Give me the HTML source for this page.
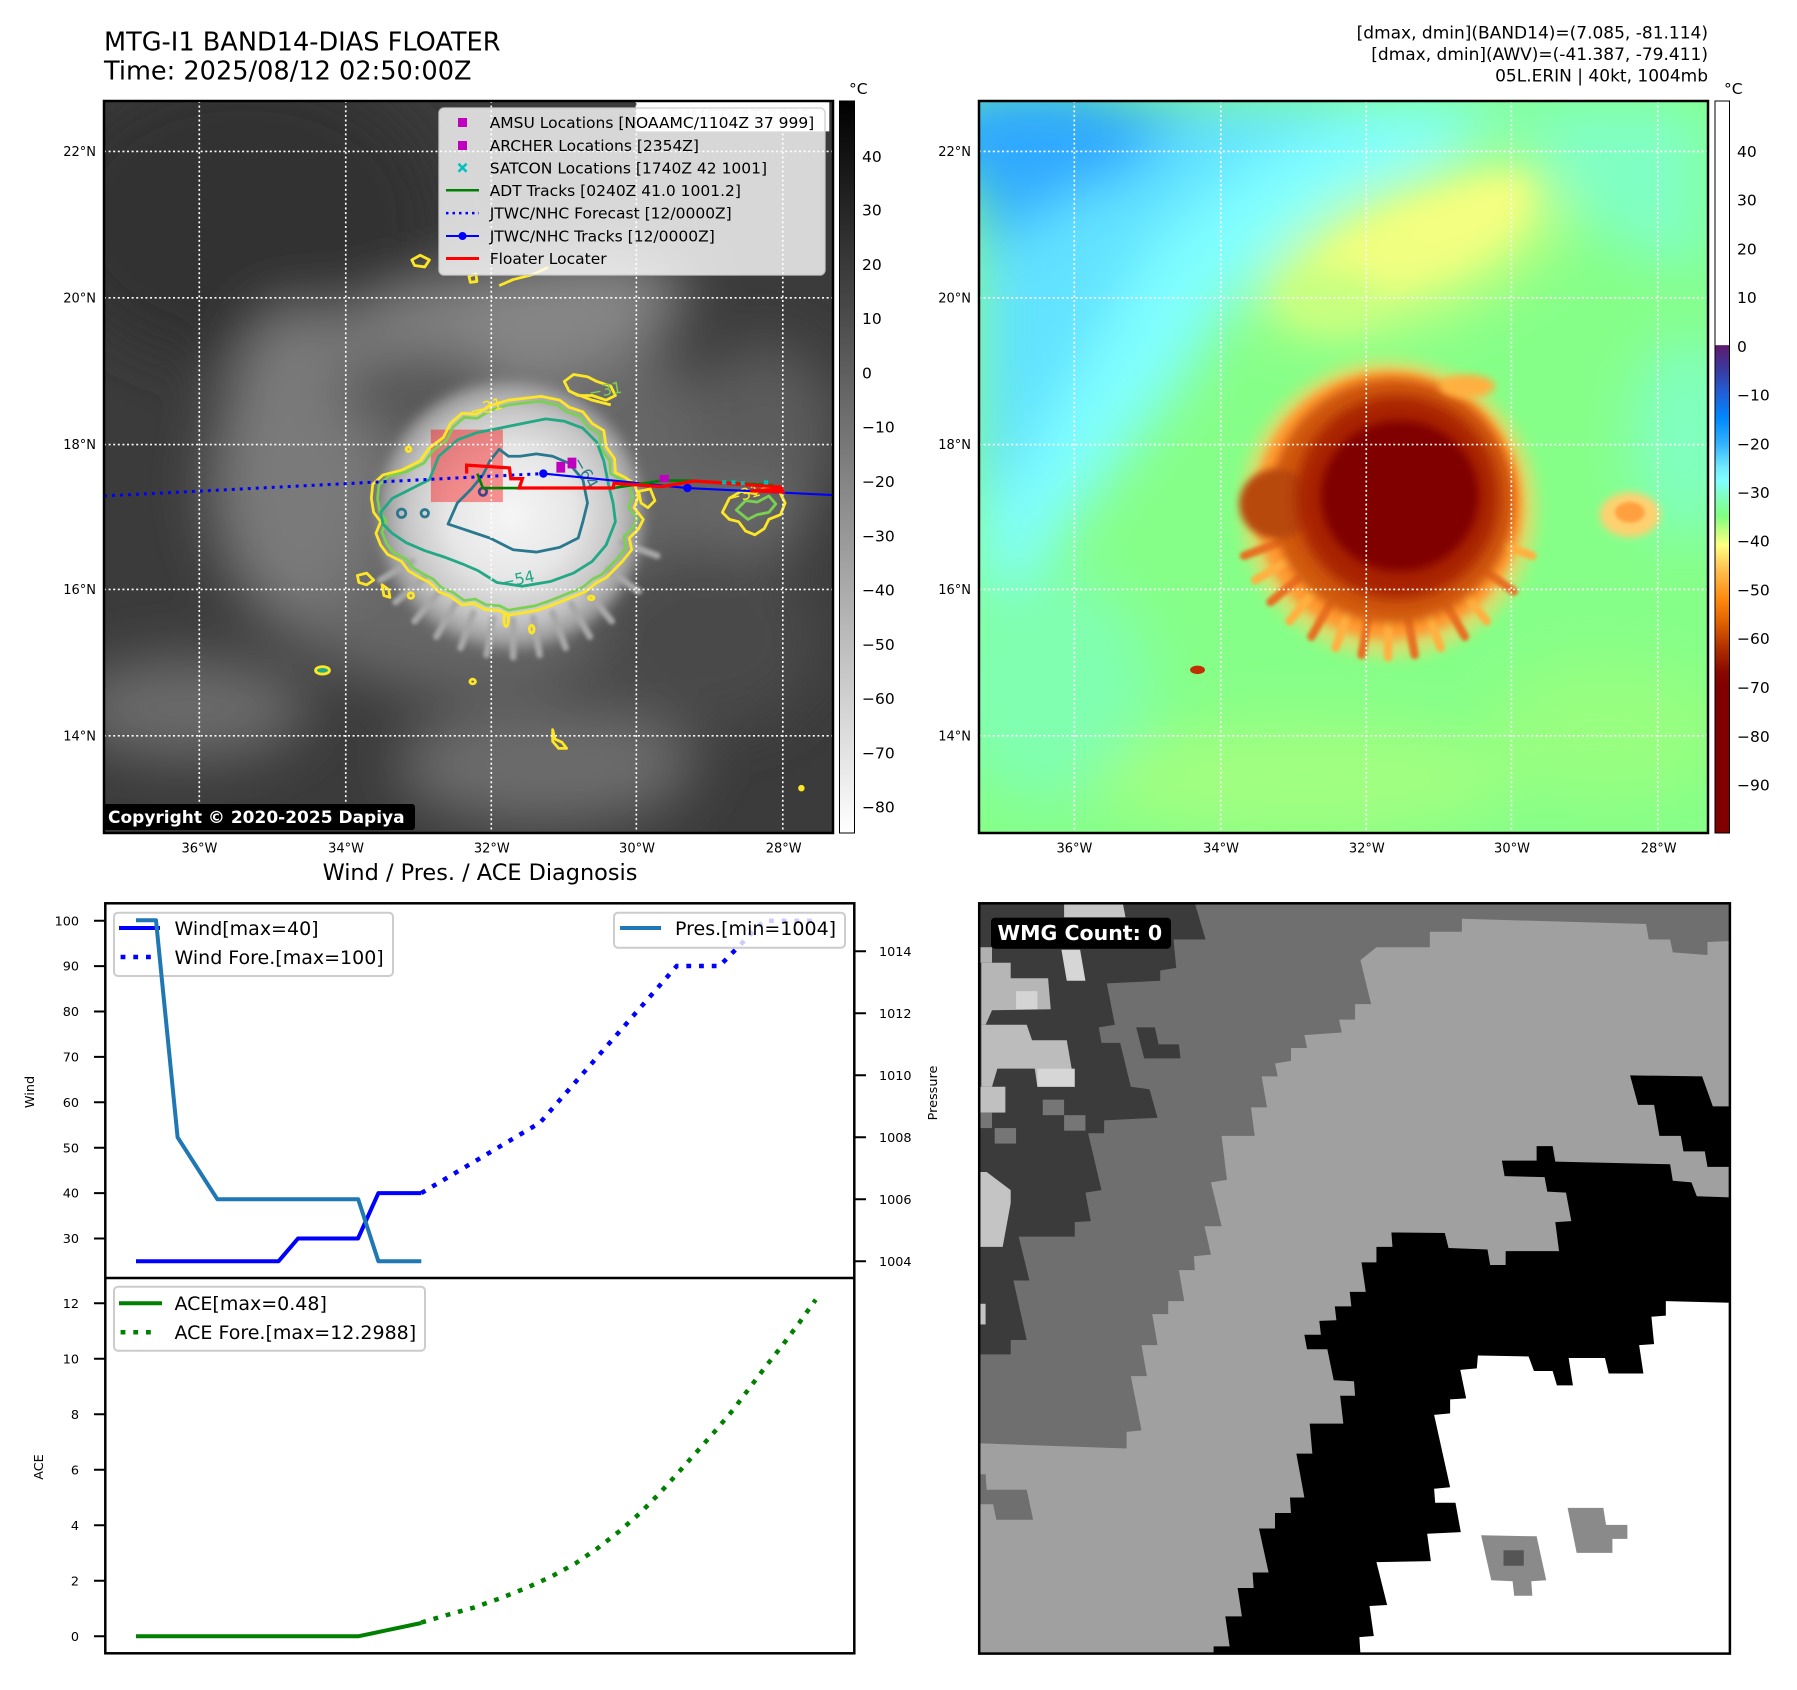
<!DOCTYPE html>
<html><head><meta charset="utf-8"><style>html,body{margin:0;padding:0;background:#fff}svg{display:block}</style></head>
<body>
<svg width="1797" height="1690" viewBox="0 0 1797 1690" font-family="DejaVu Sans, Liberation Sans, sans-serif">
<defs>
<filter id="b60" x="-60%" y="-60%" width="220%" height="220%"><feGaussianBlur stdDeviation="60"/></filter>
<filter id="b30" x="-50%" y="-50%" width="200%" height="200%"><feGaussianBlur stdDeviation="30"/></filter>
<filter id="b15" x="-40%" y="-40%" width="180%" height="180%"><feGaussianBlur stdDeviation="15"/></filter>
<filter id="b10" x="-40%" y="-40%" width="180%" height="180%"><feGaussianBlur stdDeviation="10"/></filter>
<filter id="b8" x="-40%" y="-40%" width="180%" height="180%"><feGaussianBlur stdDeviation="8"/></filter>
<filter id="b4" x="-40%" y="-40%" width="180%" height="180%"><feGaussianBlur stdDeviation="4"/></filter>
<linearGradient id="gcbL" x1="0" y1="0" x2="0" y2="1"><stop offset="0" stop-color="#000"/><stop offset="1" stop-color="#fff"/></linearGradient>
<linearGradient id="gcbR" x1="0" y1="0" x2="0" y2="1">
<stop offset="0" stop-color="#fff"/><stop offset="0.333" stop-color="#fff"/>
<stop offset="0.334" stop-color="#5e1a6e"/><stop offset="0.367" stop-color="#3a3aa0"/>
<stop offset="0.4" stop-color="#2060d8"/><stop offset="0.433" stop-color="#0088ff"/>
<stop offset="0.467" stop-color="#30b0ff"/><stop offset="0.5" stop-color="#70e8ff"/>
<stop offset="0.52" stop-color="#80ffff"/><stop offset="0.54" stop-color="#80ffc0"/>
<stop offset="0.567" stop-color="#80ff80"/><stop offset="0.587" stop-color="#c0ff80"/>
<stop offset="0.607" stop-color="#ffff80"/><stop offset="0.64" stop-color="#ffc050"/>
<stop offset="0.68" stop-color="#ff8a10"/><stop offset="0.713" stop-color="#e06000"/>
<stop offset="0.747" stop-color="#b03000"/><stop offset="0.78" stop-color="#880800"/>
<stop offset="0.8" stop-color="#800000"/><stop offset="1" stop-color="#800000"/>
</linearGradient>
<radialGradient id="stL" cx="0.5" cy="0.5" r="0.5">
<stop offset="0" stop-color="#f6f6f6"/><stop offset="0.45" stop-color="#e6e6e6"/>
<stop offset="0.75" stop-color="#c4c4c4"/><stop offset="0.9" stop-color="#9a9a9a"/>
<stop offset="1" stop-color="#777" stop-opacity="0"/></radialGradient>
</defs>
<rect width="1797" height="1690" fill="#fff"/>

<!-- Titles -->
<text x="104" y="50.5" font-size="25.6">MTG-I1 BAND14-DIAS FLOATER</text>
<text x="104" y="79.5" font-size="25.6">Time: 2025/08/12 02:50:00Z</text>
<g font-size="17" text-anchor="end">
<text x="1708" y="38.5">[dmax, dmin](BAND14)=(7.085, -81.114)</text>
<text x="1708" y="60">[dmax, dmin](AWV)=(-41.387, -79.411)</text>
<text x="1708" y="81.5">05L.ERIN | 40kt, 1004mb</text>
</g>
<text x="849" y="94" font-size="15.5">°C</text>
<text x="1724" y="94" font-size="15.5">°C</text>

<!-- LEFT MAP -->
<svg x="104" y="101" width="729" height="732" viewBox="0 0 1568 1566" preserveAspectRatio="none">
<rect width="1568" height="1566" fill="#3b3b3b"/>
<g filter="url(#b60)">
<ellipse cx="300" cy="250" rx="420" ry="320" fill="#333"/>
<ellipse cx="780" cy="830" rx="560" ry="440" fill="#666"/>
<ellipse cx="880" cy="480" rx="380" ry="130" fill="#868686" transform="rotate(-12 880 480)"/>
<ellipse cx="420" cy="770" rx="170" ry="330" fill="#7a7a7a"/>
<ellipse cx="680" cy="620" rx="180" ry="90" fill="#545454"/>
<ellipse cx="180" cy="1300" rx="260" ry="110" fill="#6a6a6a"/>
<ellipse cx="950" cy="1420" rx="320" ry="130" fill="#6c6c6c"/>
<ellipse cx="1420" cy="700" rx="160" ry="180" fill="#5c5c5c"/>
<ellipse cx="1300" cy="1150" rx="250" ry="200" fill="#484848"/>
<ellipse cx="1400" cy="880" rx="120" ry="90" fill="#6a6a6a"/>
</g>
<circle cx="875" cy="885" r="305" fill="url(#stL)" filter="url(#b10)"/>
<g stroke="#a8a8a8" stroke-width="14" stroke-linecap="round" filter="url(#b4)">
<line x1="1115" y1="945" x2="1190" y2="973"/><line x1="1085" y1="1003" x2="1150" y2="1049"/>
<line x1="1041" y1="1051" x2="1092" y2="1113"/><line x1="1005" y1="1076" x2="1045" y2="1146"/>
<line x1="965" y1="1095" x2="993" y2="1170"/><line x1="923" y1="1106" x2="937" y2="1185"/>
<line x1="880" y1="1110" x2="880" y2="1190"/><line x1="837" y1="1106" x2="823" y2="1185"/>
<line x1="794" y1="1095" x2="767" y2="1170"/><line x1="755" y1="1076" x2="715" y2="1146"/>
<line x1="719" y1="1051" x2="668" y2="1113"/><line x1="688" y1="1021" x2="627" y2="1072"/>
<line x1="663" y1="985" x2="594" y2="1025"/>
</g>
<!-- locator box -->
<rect x="703" y="703" width="155" height="155" fill="#ff0000" fill-opacity="0.4"/>
<!-- contours -->
<g fill="none" stroke-width="6" stroke-linejoin="round">
<path d="M578,820 L600,800 L640,790 L680,770 L700,742 L730,720 L745,690 L770,668 L800,670 L830,652 L870,640 L905,636 L940,632 L980,640 L1000,655 L1030,665 L1050,690 L1075,705 L1080,740 L1098,765 L1100,795 L1120,805 L1140,818 L1150,845 L1140,870 L1160,895 L1150,915 L1130,935 L1135,960 L1115,985 L1095,1005 L1080,1020 L1060,1030 L1035,1050 L1010,1060 L985,1070 L960,1080 L930,1090 L900,1095 L870,1100 L850,1090 L820,1088 L795,1075 L770,1078 L745,1060 L720,1050 L700,1030 L680,1020 L655,1005 L640,985 L610,970 L595,950 L585,925 L595,900 L580,880 L575,850 Z" stroke="#fde725"/>
<path d="M578,820 L600,800 L640,790 L680,770 L700,742 L730,720 L745,690 L770,668 L800,670 L830,652 L870,640 L905,636 L940,632 L980,640 L1000,655 L1030,665 L1050,690 L1075,705 L1080,740 L1098,765 L1100,795 L1120,805 L1140,818 L1150,845 L1140,870 L1160,895 L1150,915 L1130,935 L1135,960 L1115,985 L1095,1005 L1080,1020 L1060,1030 L1035,1050 L1010,1060 L985,1070 L960,1080 L930,1090 L900,1095 L870,1100 L850,1090 L820,1088 L795,1075 L770,1078 L745,1060 L720,1050 L700,1030 L680,1020 L655,1005 L640,985 L610,970 L595,950 L585,925 L595,900 L580,880 L575,850 Z" stroke="#7ad151" transform="translate(870 865) scale(0.955) translate(-870 -865)"/>
<path d="M595,880 L620,850 L660,830 L700,810 L720,760 L760,725 L800,710 L850,700 L900,690 L950,680 L990,685 L1030,700 L1060,730 L1075,770 L1085,820 L1095,860 L1100,900 L1080,950 L1050,985 L1010,1010 L960,1028 L900,1038 L845,1030 L805,1005 L770,990 L730,975 L690,962 L650,945 L620,925 L600,905 Z" stroke="#22a884"/>
<path d="M740,905 L760,860 L790,830 L815,800 L830,770 L850,745 L870,760 L895,760 L930,755 L965,760 L1000,775 L1030,810 L1040,860 L1030,900 L1020,935 L980,955 L930,965 L880,960 L830,935 L800,925 L770,915 Z" stroke="#2a788e"/>
<circle cx="640" cy="882" r="9" stroke="#2a788e"/><circle cx="690" cy="882" r="8" stroke="#2a788e"/><circle cx="815" cy="836" r="8" stroke="#414487"/>
<path d="M1330,880 L1345,850 L1370,835 L1400,840 L1425,825 L1450,830 L1465,860 L1455,885 L1430,895 L1420,915 L1400,928 L1380,920 L1365,900 L1345,895 Z" stroke="#fde725"/>
<path d="M1360,875 L1380,855 L1405,858 L1430,845 L1445,862 L1430,880 L1405,885 L1385,895 Z" stroke="#7ad151"/>
<path d="M990,600 L1010,585 L1040,590 L1060,600 L1090,610 L1100,630 L1080,640 L1050,630 L1020,630 L1000,620 Z" stroke="#fde725"/>
<path d="M1010,625 L1050,640 L1090,650" stroke="#fde725"/>
<path d="M662,340 L680,330 L700,340 L690,355 L668,352 Z" stroke="#fde725"/>
<path d="M850,395 L880,382 L920,372 L955,356" stroke="#fde725"/>
<path d="M785,375 L800,370 L802,386 L788,388 Z" stroke="#fde725"/>
<path d="M545,1015 L565,1010 L580,1025 L565,1035 L548,1030 Z" stroke="#fde725"/>
<path d="M598,1035 L612,1045 L615,1062 L602,1058 Z" stroke="#fde725"/>
<path d="M1150,835 L1175,830 L1185,855 L1170,870 L1155,860 Z" stroke="#fde725"/>
<ellipse cx="470" cy="1218" rx="15" ry="8" stroke="#fde725" fill="#22a884"/>
<ellipse cx="793" cy="1242" rx="6" ry="5" stroke="#fde725"/>
<path d="M965,1345 L970,1365 L985,1372 L995,1385 L978,1385 L965,1370 Z" stroke="#fde725"/>
<circle cx="655" cy="745" r="5" stroke="#fde725"/><circle cx="660" cy="1058" r="6" stroke="#fde725"/>
<circle cx="1500" cy="1470" r="4" stroke="#fde725" fill="#fde725"/>
<ellipse cx="865" cy="1110" rx="5" ry="14" stroke="#fde725"/><ellipse cx="920" cy="1130" rx="5" ry="8" stroke="#fde725"/>
<ellipse cx="1048" cy="1063" rx="6" ry="4" stroke="#fde725"/>
</g>
<g font-size="34">
<text x="790" y="676" fill="#fde725" transform="rotate(-15 790 676)">−31</text>
<text x="1045" y="636" fill="#7ad151" transform="rotate(-10 1045 636)">−31</text>
<text x="1008" y="770" fill="#2a788e" transform="rotate(60 1008 770)">−64</text>
<text x="858" y="1042" fill="#22a884" transform="rotate(-12 858 1042)">−54</text>
<text x="1345" y="862" fill="#fde725" transform="rotate(-15 1345 862)">−31</text>
</g>
<!-- gridlines -->
<g stroke="#fff" stroke-width="3.5" stroke-dasharray="4.3 5.6">
<line x1="205" y1="0" x2="205" y2="1566"/><line x1="520" y1="0" x2="520" y2="1566"/>
<line x1="833" y1="0" x2="833" y2="1566"/><line x1="1145" y1="0" x2="1145" y2="1566"/>
<line x1="1460" y1="0" x2="1460" y2="1566"/>
<line x1="0" y1="108" x2="1568" y2="108"/><line x1="0" y1="421" x2="1568" y2="421"/>
<line x1="0" y1="735" x2="1568" y2="735"/><line x1="0" y1="1045" x2="1568" y2="1045"/>
<line x1="0" y1="1358" x2="1568" y2="1358"/>
</g>
<!-- tracks -->
<line x1="0" y1="845" x2="945" y2="797" stroke="#0000ff" stroke-width="6.5" stroke-dasharray="6.5 10.7"/>
<path d="M945,797 L1255,828 L1568,843" stroke="#0000ff" stroke-width="4.5" fill="none"/>
<circle cx="945" cy="797" r="9" fill="#0000ff"/><circle cx="1255" cy="828" r="9" fill="#0000ff"/>
<path d="M803,797 L815,828 L1095,828 L1200,812 L1260,812 L1440,822" stroke="#008000" stroke-width="5.5" fill="none"/>
<path d="M780,797 L780,779 L872,785 L875,808 L900,808 L893,828 L1095,828 L1097,818 L1200,825 L1270,813 L1455,826 L1460,836 L1390,834 L1460,830" stroke="#ff0000" stroke-width="7" fill="none" stroke-linejoin="miter"/>
<rect x="973" y="772" width="19" height="23" fill="#bf00bf"/>
<rect x="997" y="763" width="19" height="23" fill="#bf00bf"/>
<rect x="1195" y="800" width="20" height="15" fill="#bf00bf"/>
<g stroke="#00bfbf" stroke-width="4">
<path d="M1330,812 l8,8 m0,-8 l-8,8 M1350,812 l8,8 m0,-8 l-8,8 M1370,814 l8,8 m0,-8 l-8,8 M1420,812 l8,8 m0,-8 l-8,8"/>
</g>
<!-- EUMETSAT box -->
<rect x="1145" y="0" width="415" height="65" fill="#fff"/>
<text x="1160" y="46" font-size="38" fill="#d8d8d8">© EUMETSAT 2025</text>
</svg>
<rect x="104" y="101" width="729" height="732" fill="none" stroke="#000" stroke-width="2.5"/>

<!-- left map legend -->
<rect x="439" y="108" width="386" height="167" rx="5" fill="#fff" fill-opacity="0.8" stroke="#ccc" stroke-opacity="0.8" stroke-width="1.5"/>
<rect x="458" y="118" width="9" height="9" fill="#bf00bf"/>
<rect x="458" y="141" width="9" height="9" fill="#bf00bf"/>
<path d="M458.5,163.8 l8,8 m0,-8 l-8,8" stroke="#00bfbf" stroke-width="2.5"/>
<line x1="446" y1="190.3" x2="479" y2="190.3" stroke="#008000" stroke-width="2.5"/>
<line x1="446" y1="213.1" x2="479" y2="213.1" stroke="#0000ff" stroke-width="2.5" stroke-dasharray="2.5 4"/>
<line x1="446" y1="236" x2="479" y2="236" stroke="#0000ff" stroke-width="2"/>
<circle cx="462.5" cy="236" r="4" fill="#0000ff"/>
<line x1="446" y1="258.5" x2="479" y2="258.5" stroke="#ff0000" stroke-width="3"/>
<g font-size="15.5">
<text x="489.7" y="128.1">AMSU Locations [NOAAMC/1104Z 37 999]</text>
<text x="489.7" y="151">ARCHER Locations [2354Z]</text>
<text x="489.7" y="173.4">SATCON Locations [1740Z 42 1001]</text>
<text x="489.7" y="195.9">ADT Tracks [0240Z 41.0 1001.2]</text>
<text x="489.7" y="218.7">JTWC/NHC Forecast [12/0000Z]</text>
<text x="489.7" y="241.6">JTWC/NHC Tracks [12/0000Z]</text>
<text x="489.7" y="264.1">Floater Locater</text>
</g>
<!-- copyright -->
<rect x="103" y="804" width="312" height="26" rx="3" fill="#000"/>
<text x="108" y="823" font-size="17" font-weight="bold" fill="#fff">Copyright © 2020-2025 Dapiya</text>

<!-- map tick labels -->
<g font-size="13" text-anchor="end">
<text x="96" y="156.2">22°N</text><text x="96" y="302.4">20°N</text><text x="96" y="449.2">18°N</text><text x="96" y="594">16°N</text><text x="96" y="740.3">14°N</text>
<text x="971" y="156.2">22°N</text><text x="971" y="302.4">20°N</text><text x="971" y="449.2">18°N</text><text x="971" y="594">16°N</text><text x="971" y="740.3">14°N</text>
</g>
<g font-size="13" text-anchor="middle">
<text x="199.4" y="852.5">36°W</text><text x="346.1" y="852.5">34°W</text><text x="491.8" y="852.5">32°W</text><text x="637" y="852.5">30°W</text><text x="783.7" y="852.5">28°W</text>
<text x="1074.4" y="852.5">36°W</text><text x="1221.1" y="852.5">34°W</text><text x="1366.8" y="852.5">32°W</text><text x="1512" y="852.5">30°W</text><text x="1658.7" y="852.5">28°W</text>
</g>

<!-- left colorbar -->
<rect x="839.5" y="101" width="15" height="732" fill="url(#gcbL)" stroke="#000" stroke-width="1"/>
<g font-size="15.5">
<text x="862" y="162">40</text><text x="862" y="215.6">30</text><text x="862" y="270">20</text><text x="862" y="324">10</text>
<text x="862" y="378.6">0</text><text x="862" y="432.6">−10</text><text x="862" y="487">−20</text><text x="862" y="541.6">−30</text>
<text x="862" y="595.6">−40</text><text x="862" y="650">−50</text><text x="862" y="704">−60</text><text x="862" y="758.6">−70</text>
<text x="862" y="812.6">−80</text>
</g>

<!-- RIGHT MAP -->
<svg x="979" y="101" width="729" height="732" viewBox="0 0 1568 1566" preserveAspectRatio="none">
<rect width="1568" height="1566" fill="#86ff88"/>
<g filter="url(#b60)">
<polygon points="0,0 1150,0 1000,130 750,250 550,420 420,620 260,820 120,1000 0,1100" fill="#80ffff"/>
<polygon points="0,0 850,0 600,120 380,300 230,550 80,800 0,880" fill="#62e2ff"/>
<polygon points="0,0 520,0 300,110 120,260 0,330" fill="#36b0ff"/>
<ellipse cx="120" cy="80" rx="260" ry="120" fill="#2ea8ff"/>
<polygon points="1150,0 1568,0 1568,380 1350,300 1200,150" fill="#80ffc4"/>
<ellipse cx="1520" cy="720" rx="120" ry="220" fill="#80ffc0"/>
<ellipse cx="150" cy="1250" rx="220" ry="250" fill="#80ffb0"/>
<ellipse cx="700" cy="1450" rx="450" ry="120" fill="#a0ff80"/>
<ellipse cx="1350" cy="1350" rx="250" ry="150" fill="#98ff80"/>
<ellipse cx="930" cy="320" rx="340" ry="150" fill="#d0ff80" transform="rotate(-20 930 320)"/>
</g>
<g filter="url(#b30)">
<ellipse cx="950" cy="300" rx="240" ry="85" fill="#f0ff80" transform="rotate(-20 950 300)"/>
<ellipse cx="1050" cy="230" rx="150" ry="50" fill="#f4ff80" transform="rotate(-20 1050 230)"/>
<ellipse cx="760" cy="420" rx="110" ry="60" fill="#c8ff80"/>
</g>
<!-- storm -->
<circle cx="882" cy="872" r="318" fill="#ffd060" opacity="0.65" filter="url(#b15)"/>
<circle cx="882" cy="865" r="288" fill="#ff9a30" filter="url(#b10)"/>
<g stroke-width="18" stroke-linecap="round" filter="url(#b4)">
<line x1="1115" y1="945" x2="1190" y2="973" stroke="#ffb040"/><line x1="1085" y1="1003" x2="1150" y2="1049" stroke="#e87020"/>
<line x1="1041" y1="1051" x2="1092" y2="1113" stroke="#ffb040"/><line x1="1005" y1="1076" x2="1045" y2="1146" stroke="#e87020"/>
<line x1="965" y1="1095" x2="993" y2="1170" stroke="#ffb040"/><line x1="923" y1="1106" x2="937" y2="1185" stroke="#e87020"/>
<line x1="880" y1="1110" x2="880" y2="1190" stroke="#ffb040"/><line x1="837" y1="1106" x2="823" y2="1185" stroke="#e87020"/>
<line x1="794" y1="1095" x2="767" y2="1170" stroke="#ffb040"/><line x1="755" y1="1076" x2="715" y2="1146" stroke="#e87020"/>
<line x1="719" y1="1051" x2="668" y2="1113" stroke="#ffb040"/><line x1="688" y1="1021" x2="627" y2="1072" stroke="#e87020"/>
<line x1="663" y1="985" x2="594" y2="1025" stroke="#ffb040"/><line x1="645" y1="945" x2="570" y2="973" stroke="#e87020"/>
</g>
<circle cx="890" cy="855" r="262" fill="#d05a10" filter="url(#b10)"/>
<ellipse cx="640" cy="862" rx="80" ry="75" fill="#b84a10" filter="url(#b8)"/>
<circle cx="900" cy="848" r="218" fill="#a82000" filter="url(#b15)"/>
<ellipse cx="905" cy="845" rx="170" ry="162" fill="#800000" filter="url(#b10)"/>
<ellipse cx="1050" cy="610" rx="60" ry="25" fill="#ffb040" filter="url(#b8)"/>
<ellipse cx="1400" cy="885" rx="65" ry="48" fill="#ffd070" filter="url(#b8)"/>
<ellipse cx="1400" cy="880" rx="32" ry="22" fill="#ffa040" filter="url(#b4)"/>
<ellipse cx="470" cy="1217" rx="16" ry="9" fill="#c03000"/>
<g stroke="#fff" stroke-width="3.5" stroke-dasharray="4.3 5.6">
<line x1="205" y1="0" x2="205" y2="1566"/><line x1="520" y1="0" x2="520" y2="1566"/>
<line x1="833" y1="0" x2="833" y2="1566"/><line x1="1145" y1="0" x2="1145" y2="1566"/>
<line x1="1460" y1="0" x2="1460" y2="1566"/>
<line x1="0" y1="108" x2="1568" y2="108"/><line x1="0" y1="421" x2="1568" y2="421"/>
<line x1="0" y1="735" x2="1568" y2="735"/><line x1="0" y1="1045" x2="1568" y2="1045"/>
<line x1="0" y1="1358" x2="1568" y2="1358"/>
</g>
</svg>
<rect x="979" y="101" width="729" height="732" fill="none" stroke="#000" stroke-width="2.5"/>

<!-- right colorbar -->
<rect x="1715" y="101" width="14.5" height="732" fill="url(#gcbR)" stroke="#000" stroke-width="1"/>
<g font-size="15.5">
<text x="1737" y="157">40</text><text x="1737" y="205.6">30</text><text x="1737" y="254.6">20</text><text x="1737" y="303">10</text>
<text x="1737" y="352">0</text><text x="1737" y="400.6">−10</text><text x="1737" y="449.6">−20</text><text x="1737" y="498">−30</text>
<text x="1737" y="546.6">−40</text><text x="1737" y="595.6">−50</text><text x="1737" y="644">−60</text><text x="1737" y="693">−70</text>
<text x="1737" y="742">−80</text><text x="1737" y="790.5">−90</text>
</g>

<!-- CHART TITLE -->
<text x="480" y="880" font-size="22.4" text-anchor="middle">Wind / Pres. / ACE Diagnosis</text>

<!-- LOWER LEFT CHART -->
<path d="M136,1261.2 L278.6,1261.2 L298,1238.5 L358,1238.5 L378.4,1193.1 L421.3,1193.1" fill="none" stroke="#0000ff" stroke-width="4" stroke-linejoin="round"/>
<path d="M421.3,1193.1 L540,1122.7 L676.7,966 L719.5,966 L764,920.7 L815,920.7" fill="none" stroke="#0000ff" stroke-width="4.5" stroke-dasharray="4.8 7.9"/>
<rect x="114" y="912.7" width="279" height="63.3" rx="4" fill="#fff" fill-opacity="0.8" stroke="#ccc" stroke-width="2"/>
<line x1="119" y1="928" x2="160" y2="928" stroke="#0000ff" stroke-width="4"/>
<line x1="120.6" y1="957" x2="158" y2="957" stroke="#0000ff" stroke-width="4.5" stroke-dasharray="4.8 7.9"/>
<text x="174.5" y="935" font-size="19">Wind[max=40]</text>
<text x="174.5" y="964" font-size="19">Wind Fore.[max=100]</text>
<path d="M136,920.3 L156,920.3 L177.6,1137.3 L217.4,1199.3 L358.2,1199.3 L378.4,1261.3 L421.3,1261.3" fill="none" stroke="#1f77b4" stroke-width="4" stroke-linejoin="round"/>
<rect x="614" y="912.7" width="231" height="35" rx="4" fill="#fff" fill-opacity="0.8" stroke="#ccc" stroke-width="2"/>
<line x1="620" y1="928" x2="661" y2="928" stroke="#1f77b4" stroke-width="4"/>
<text x="675" y="935" font-size="19">Pres.[min=1004]</text>
<path d="M136,1636.3 L358.2,1636.3 L421.3,1623" fill="none" stroke="#008000" stroke-width="4" stroke-linejoin="round"/>
<path d="M421.3,1622.5 L447,1615 L473.4,1607.7 L500.3,1598.3 L525.4,1588.3 L551.1,1576.7 L575.6,1563.3 L598.3,1547.7 L619.7,1531 L640.5,1512.7 L660.1,1492.7 L678.5,1472.3 L696.9,1451.7 L715.2,1431 L733,1410 L749.5,1388 L766.1,1366 L783.2,1344.3 L799.8,1322 L815.7,1299.7" fill="none" stroke="#008000" stroke-width="4.5" stroke-dasharray="4.8 7.9"/>
<rect x="114" y="1286.7" width="311" height="64" rx="4" fill="#fff" fill-opacity="0.8" stroke="#ccc" stroke-width="2"/>
<line x1="119" y1="1303.3" x2="162" y2="1303.3" stroke="#008000" stroke-width="4"/>
<line x1="120.6" y1="1332.3" x2="158" y2="1332.3" stroke="#008000" stroke-width="4.5" stroke-dasharray="4.8 7.9"/>
<text x="174.5" y="1310.2" font-size="19">ACE[max=0.48]</text>
<text x="174.5" y="1339.2" font-size="19">ACE Fore.[max=12.2988]</text>
<rect x="105.3" y="903.3" width="749" height="750" fill="none" stroke="#000" stroke-width="2.5"/>
<line x1="105.3" y1="1278" x2="854.3" y2="1278" stroke="#000" stroke-width="2.5"/>
<g stroke="#000" stroke-width="2">
<path d="M94,920.7h11M94,966.1h11M94,1011.5h11M94,1056.9h11M94,1102.3h11M94,1147.7h11M94,1193.1h11M94,1238.5h11"/>
<path d="M855,951.3h11M855,1013.3h11M855,1075.3h11M855,1137.3h11M855,1199.3h11M855,1261.3h11"/>
<path d="M94,1303.3h11M94,1358.8h11M94,1414.3h11M94,1469.8h11M94,1525.3h11M94,1580.8h11M94,1636.3h11"/>
</g>
<g font-size="12.8" text-anchor="end">
<text x="79" y="925.3">100</text><text x="79" y="970.7">90</text><text x="79" y="1016.1">80</text><text x="79" y="1061.5">70</text>
<text x="79" y="1106.9">60</text><text x="79" y="1152.3">50</text><text x="79" y="1197.7">40</text><text x="79" y="1243.1">30</text>
<text x="79" y="1307.9">12</text><text x="79" y="1363.4">10</text><text x="79" y="1418.9">8</text><text x="79" y="1474.4">6</text>
<text x="79" y="1529.9">4</text><text x="79" y="1585.4">2</text><text x="79" y="1640.9">0</text>
</g>
<g font-size="12.8">
<text x="879" y="955.9">1014</text><text x="879" y="1017.9">1012</text><text x="879" y="1079.9">1010</text>
<text x="879" y="1141.9">1008</text><text x="879" y="1203.9">1006</text><text x="879" y="1265.9">1004</text>
</g>
<g font-size="12.8" text-anchor="middle">
<text transform="translate(34 1092) rotate(-90)">Wind</text>
<text transform="translate(937 1093) rotate(-90)">Pressure</text>
<text transform="translate(43 1467) rotate(-90)">ACE</text>
</g>

<!-- WMG PANEL -->
<svg x="979.2" y="903.3" width="750.7" height="750.3" viewBox="36 45 1406 1452" preserveAspectRatio="none">
<rect x="36" y="45" width="1406" height="1452" fill="#a0a0a0"/>
<polygon fill="#6f6f6f" points="36,45 1442,45 1442,118 1400,120 1400,145 1335,140 1330,115 1290,115 1285,85 940,75 940,100 880,100 880,130 780,130 750,155 770,240 740,240 740,270 710,270 715,295 645,300 650,325 620,325 620,350 590,355 595,380 565,380 575,440 545,440 552,495 490,495 500,580 470,585 490,670 458,670 470,725 438,728 440,755 410,755 420,815 390,815 390,840 360,840 370,900 340,900 350,960 320,960 340,1065 312,1068 312,1100 36,1090"/>
<polygon fill="#6f6f6f" points="36,1150 48,1150 50,1180 125,1180 137,1238 68,1238 62,1208 36,1208"/>
<polygon fill="#3b3b3b" points="36,45 440,45 460,115 400,115 405,170 375,175 375,195 275,200 290,280 260,285 265,315 300,315 320,400 355,405 370,460 270,465 270,490 240,490 265,600 235,605 245,660 215,662 215,690 110,690 130,775 100,775 125,890 95,890 95,918 36,918"/>
<polygon fill="#3b3b3b" points="330,285 365,285 372,318 410,318 413,345 345,345"/>
<polygon fill="#c6c6c6" points="195,45 305,45 310,72 195,72"/>
<rect x="36" y="130" width="24" height="30" fill="#b0b0b0"/>
<polygon fill="#b6b6b6" points="40,160 95,160 95,190 165,190 170,250 60,252 48,280 40,280"/>
<rect x="105" y="215" width="40" height="35" fill="#d4d4d4"/>
<polygon fill="#d6d6d6" points="190,135 225,135 235,195 200,195"/>
<polygon fill="#bcbcbc" points="40,280 125,280 135,310 200,310 215,400 145,400 140,365 70,365 60,400 40,400"/>
<rect x="145" y="365" width="70" height="35" fill="#d6d6d6"/>
<rect x="36" y="400" width="49" height="50" fill="#c0c0c0"/>
<rect x="155" y="425" width="40" height="30" fill="#767676"/>
<rect x="195" y="455" width="40" height="30" fill="#767676"/>
<rect x="65" y="480" width="40" height="30" fill="#767676"/>
<rect x="36" y="450" width="24" height="30" fill="#767676"/>
<polygon fill="#c4c4c4" points="36,565 50,565 95,600 95,625 80,710 36,710"/>
<rect x="36" y="820" width="12" height="40" fill="#c4c4c4"/>
<polygon fill="#000" points="1255,378 1390,380 1410,438 1442,438 1442,555 1400,555 1395,525 1355,525 1350,495 1310,495 1300,435 1270,435"/>
<polygon fill="#000" points="1015,543 1080,543 1080,515 1110,515 1115,545 1330,550 1335,582 1370,585 1380,612 1442,614 1442,1497 475,1497 475,1483 505,1483 497,1425 528,1425 520,1370 550,1370 548,1340 578,1340 560,1255 590,1255 590,1225 620,1225 618,1195 645,1195 630,1110 660,1110 655,1052 718,1052 712,998 740,998 738,970 700,968 688,908 650,908 645,880 676,880 673,853 705,852 702,825 733,825 730,797 760,797 752,740 780,740 780,710 810,710 808,682 908,683 915,712 988,715 993,745 1022,745 1022,718 1122,718 1115,662 1145,660 1135,605 1100,603 1095,575 1020,573"/>
<polygon fill="#fff" points="1442,818 1322,815 1322,843 1295,845 1300,898 1272,900 1280,955 1215,955 1208,925 1140,925 1148,978 1118,978 1110,950 1075,950 1065,922 970,920 968,945 937,948 948,1003 918,1005 918,1032 888,1035 918,1175 888,1178 890,1205 928,1205 938,1262 875,1265 882,1318 780,1320 800,1403 767,1405 775,1463 748,1465 750,1497 1442,1497"/>
<polygon fill="#8a8a8a" points="976,1268 1080,1270 1098,1355 1070,1357 1072,1385 1038,1385 1035,1357 995,1355"/>
<rect x="1018" y="1297" width="38" height="30" fill="#555"/>
<polygon fill="#8a8a8a" points="1138,1215 1205,1215 1210,1248 1250,1248 1250,1275 1222,1275 1222,1302 1155,1302"/>
</svg>
<rect x="979.2" y="903.3" width="750.7" height="750.3" fill="none" stroke="#000" stroke-width="2.5"/>
<rect x="991" y="917.7" width="180" height="31" rx="4" fill="#000"/>
<text x="997.5" y="940" font-size="20.5" font-weight="bold" fill="#fff">WMG Count: 0</text>
</svg>
</body></html>
